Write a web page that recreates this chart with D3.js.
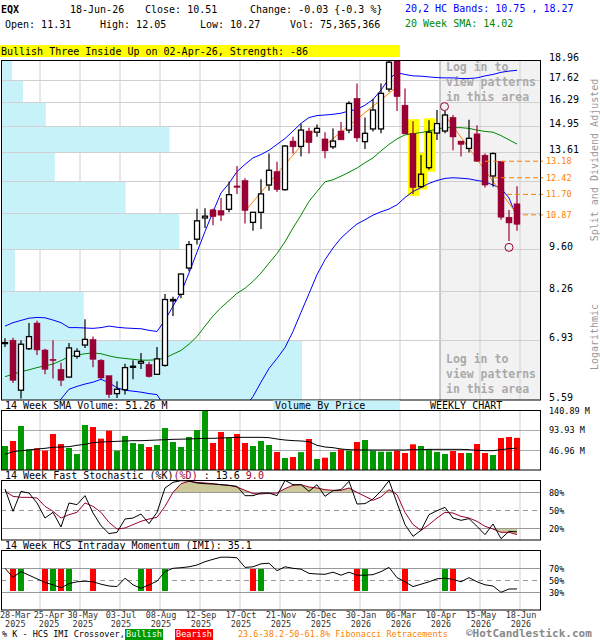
<!DOCTYPE html>
<meta charset="utf-8">
<script src="https://d3js.org/d3.v7.min.js"></script>
<style>
  body { margin: 0; background: #fff; }
  svg text { font-family: "DejaVu Sans Mono", monospace; }
</style>
<div id="chart"></div>
<script>
// weekly bars, 28-Mar-25 .. 18-Jun-26
var opens  = [6.85,6.93,5.79,6.72,7.37,6.69,6.47,6.24,6.07,6.54, 6.81,6.95,6.45,6.10,5.72,5.80,6.30,6.38,6.35,6.13,
              6.33,7.98,8.17,8.98,9.96,10.75,11.07,11.04,11.09,12.06, 12.30,10.58,10.97,12.10,12.70,11.90,14.17,13.90,14.69,14.63,
              14.28,13.88,14.69,14.74,16.52,14.14,14.80,14.80,17.08,18.96, 16.12,14.57,12.03,12.88,14.58,14.69,15.43,14.17,13.80,14.54,
              13.47,12.50,13.18,10.78,11.31];
var highs  = [6.98,6.99,6.93,7.37,7.43,6.72,6.93,6.39,6.86,6.73, 7.47,7.02,6.47,6.10,5.98,6.37,6.45,6.62,6.41,6.76,
              8.18,8.10,8.80,9.90,11.11,11.13,11.11,11.55,12.24,12.96, 12.40,10.97,12.35,13.55,13.16,13.97,14.39,15.08,14.86,15.04,
              14.63,14.83,15.17,16.35,17.42,15.42,16.50,17.42,18.89,19.05, 17.11,15.22,13.48,15.27,15.84,15.78,15.56,14.17,15.30,15.00,
              13.55,13.60,13.18,11.06,12.05];
var lows   = [6.76,5.94,5.62,6.69,6.57,6.13,6.04,5.88,6.06,6.48, 6.74,6.29,6.03,5.63,5.63,5.70,6.02,6.25,6.06,6.13,
              6.30,7.56,8.06,8.88,9.77,10.37,10.47,10.63,10.97,11.72, 10.54,10.27,10.33,11.85,11.80,11.85,13.55,13.40,13.55,14.39,
              13.32,13.77,14.23,14.57,14.14,13.77,14.66,14.57,16.92,15.78, 14.54,11.72,11.99,12.78,14.23,14.57,13.71,13.40,13.60,13.15,
              11.99,12.03,10.68,9.90,10.27];
var closes = [6.87,6.00,6.83,7.02,6.69,6.24,6.44,6.00,6.74,6.66, 6.95,6.47,6.05,5.70,5.81,6.28,6.31,6.42,6.08,6.48,
              8.02,8.02,8.79,9.77,10.64,10.82,10.80,10.86,11.69,12.00, 11.04,10.97,11.72,12.76,11.90,13.92,13.88,14.74,14.09,14.83,
              13.68,14.17,14.23,16.22,14.33,14.57,15.84,16.82,18.81,16.62, 14.54,11.99,12.58,14.63,15.09,15.56,14.38,14.00,14.31,13.18,
              12.10,13.55,10.78,10.56,10.51];

// 20,2 HC bands and 20 week SMA
var bandUpper = [7.29,7.38,7.44,7.50,7.52,7.51,7.45,7.38,7.25,7.25, 7.24,7.23,7.25,7.29,7.26,7.24,7.23,7.22,7.18,7.15,
                 7.45,7.83,8.22,8.82,9.51,10.24,10.99,11.76,12.17,12.70, 13.03,13.34,13.50,13.71,14.00,14.30,14.69,15.10,15.42,15.53,
                 15.56,15.60,15.66,15.79,15.88,16.12,16.45,17.02,17.72,18.11, 18.00,17.91,17.89,17.84,17.80,17.78,17.78,17.74,17.74,17.78,
                 17.91,18.00,18.14,18.22,18.27];
var bandLower = [null,null,null,null,null,null,5.45,5.61,5.81,5.87, 5.92,5.96,6.02,5.95,5.84,5.79,5.77,5.75,5.72,5.70,
                 5.45,null,null,null,null,null,null,null,null,null, 5.45,5.66,5.96,6.26,6.49,6.75,7.15,7.66,8.19,8.77,
                 9.25,9.65,10.00,10.27,10.52,10.68,10.86,10.99,11.10,11.27, 11.57,11.82,11.99,12.17,12.30,12.39,12.42,12.40,12.37,12.30,
                 12.24,12.10,11.96,11.55,10.75];
var sma20 = [6.08,6.13,6.19,6.23,6.28,6.32,6.36,6.44,6.53,6.57, 6.60,6.62,6.60,6.55,6.51,6.49,6.47,6.45,6.45,6.46,
             6.50,6.59,6.68,6.83,7.02,7.29,7.56,7.79,7.99,8.20, 8.35,8.56,8.82,9.14,9.46,9.87,10.37,10.86,11.41,11.82,
             12.24,12.33,12.49,12.67,12.86,13.11,13.34,13.68,14.00,14.28, 14.49,14.55,14.61,14.69,14.80,14.87,14.87,14.87,14.83,14.74,
             14.67,14.63,14.45,14.23,14.02];

// volume (millions) and its 14 week SMA
var volumes = [56.4,68.1,103.3,48.5,50.9,45.4,84.5,61.0,51.7,37.6, 105.7,101.0,73.6,92.4,45.4,79.8,63.4,61.0,54.0,58.7,
               98.6,65.7,54.0,77.5,93.9,140.0,63.4,89.2,75.8,84.5, 63.4,56.4,68.1,58.7,42.3,28.2,30.5,42.0,72.8,25.8,
               28.9,42.3,48.5,45.4,65.7,70.4,45.4,43.0,43.0,45.4, 39.9,60.3,56.4,48.5,42.3,37.6,44.6,39.9,39.9,61.0,
               39.9,35.2,75.1,77.5,75.4];
var volSma = [36.8,43.0,45.4,47.0,49.3,50.9,53.3,54.0,54.8,58.0, 60.3,64.2,65.7,66.5,67.3,68.1,68.9,68.9,69.6,70.4,
              71.2,72.0,72.4,72.8,73.6,74.4,74.4,75.1,75.9,76.7, 76.7,76.7,76.7,75.9,72.8,70.4,69.0,68.1,66.5,58.0,
              54.0,52.4,49.3,47.7,47.0,47.0,47.0,47.0,47.0,47.0, 47.0,47.7,47.7,48.5,48.5,48.5,48.5,48.5,47.7,46.2,
              45.4,45.4,47.7,50.1,51.26];

// fast stochastic %K, %D
var stochK = [85,47.8,81,78.3,61.7,36.6,46.1,21.7,61.7,58.9, 73.9,45,23.9,10.6,12.8,35,36.6,43.3,27.2,46.1,
              86.7,96.1,98.9,98.3,95,93.9,93.3,92.2,91.1,89.4, 73.9,73.9,78.3,78.3,73.9,99.4,92.2,92.2,81.1,92.2,
              72.8,82.2,83.9,97.8,60,60.6,68.3,81.7,98.9,61.7, 25.6,6.1,16.1,42.2,48.9,54.4,36.6,32.8,35.6,22.8,
              8.9,26.7,2.2,14.4,13.6];
var stochD = [81.1,72.8,71.1,71.1,70,56.1,47.8,36.6,42.2,46.1, 61.7,56.1,46.1,29.4,18.3,20,25.6,31.1,35,37.8,
              56.1,79.4,93.9,97.8,96.1,95,93.9,92.2,91.1,88.3, 82.8,77.2,76.7,77.8,78.3,85.6,91.1,92.2,88.3,86.7,
              83.9,82.8,82.8,86.7,79.4,72.8,66.1,71.7,83.9,75.6, 46.1,25.6,16.1,25.6,36.6,46.1,45,39.4,36.6,31.1,
              22.8,18.3,12.8,12.8,9.0];

// HCS intraday momentum and crossover signals
var imi = [69.5,54.5,64,58,52,46,42,37,44,47, 48,47,43,40,39,53,42,36,42,48,
           64,69.5,70.5,72,75,80.5,84.5,88,88,87, 71,72,77,78,65.5,72,69.5,68,61,60,
           59.5,63,58,63,58,58,59,64,71,54, 47,39,43,47,52,53,51,47,54,47,
           42,40,29.5,35,35.1];
var imiBull = [2,6,8,17,20,32,45,55];
var imiBear = [1,5,7,11,18,31,44,50,56];

// axis labels
var dateIdx = [0,4,9,14,19,24,29,34,39,44,49,54,59,64];
var dateLabels = ["28-Mar","25-Apr","30-May","03-Jul","08-Aug","12-Sep","17-Oct","21-Nov","26-Dec","30-Jan","06-Mar","10-Apr","15-May","18-Jun"];
var yearLabels = ["2025","2025","2025","2025","2025","2025","2025","2025","2025","2026","2026","2026","2026","2026"];
var priceTicks = [5.59,6.93,8.26,9.60,10.94,12.27,13.61,14.95,16.29,17.62,18.96];
var priceLabels = [5.59,6.93,8.26,9.60,13.61,14.95,16.29,17.62,18.96];
var volTicks = [46.96,93.93,140.89];

// volume by price, one value per price band (bottom to top)
var vbpVolume = [1510,415,70,895,625,270,845,225,110,55];

// pattern, trend and fibonacci annotations
var highlightIdx = [51,52,53];
var highMarks = [55];
var lowMarks = [63];
var trendLines = [[30,11.02,39,14.90],[40,13.97,49,17.22],[55,15.54,64,10.89]];
var fibLevels = [13.18,12.42,11.70,10.87];
var fibStart = [60,61,62.75,64.75];

var RED = "#990033", GRID = "#d0d0d0";

var svg = d3.select("#chart").append("svg")
    .attr("width", 600)
    .attr("height", 640);

var x = d3.scaleLinear().domain([0, 64]).range([5, 517]);
var y = d3.scaleLog().domain([5.59, 18.96]).range([400, 60]);
var yVol = d3.scaleLinear().domain([0, 140.89]).range([470, 410]);
var ySto = d3.scaleLinear().domain([0, 100]).range([540, 480]);
var yImi = d3.scaleLinear().domain([0, 100]).range([610, 550]);
var idx = d3.range(opens.length);

function clip(id, y0, y1) {
  svg.append("clipPath").attr("id", id)
    .append("rect").attr("x", 1).attr("y", y0).attr("width", 539).attr("height", y1 - y0);
}
clip("cMain", 60, 400); clip("cVol", 410, 470); clip("cSto", 480, 540); clip("cImi", 550, 610);

function label(g, px, py, s, opt) {
  opt = opt || {};
  return g.append("text").attr("x", px).attr("y", py)
    .attr("font-size", opt.size || 10)
    .attr("fill", opt.color || "#000")
    .attr("font-weight", opt.weight || "normal")
    .attr("text-anchor", opt.anchor || "start")
    .text(s);
}

// ---- header ----
label(svg, 1, 13, "EQX", {weight: "bold"});
label(svg, 70, 13, "18-Jun-26");
label(svg, 145, 13, "Close: 10.51");
label(svg, 250, 13, "Change: -0.03 {-0.3 %}");
label(svg, 405, 12, "20,2 HC Bands: 10.75 , 18.27", {color: "#0000ff"});
label(svg, 5, 28, "Open: 11.31");
label(svg, 100, 28, "High: 12.05");
label(svg, 200, 28, "Low: 10.27");
label(svg, 290, 28, "Vol: 75,365,366");
label(svg, 405, 27, "20 Week SMA: 14.02", {color: "#008800"});
svg.append("rect").attr("x", 0).attr("y", 45).attr("width", 400).attr("height", 12).attr("fill", "#ffff00");
label(svg, 1, 55, "Bullish Three Inside Up on 02-Apr-26, Strength: -86");

// ---- main price panel ----
var gm = svg.append("g").attr("clip-path", "url(#cMain)");
gm.append("rect").attr("x", 440).attr("y", 60).attr("width", 100).attr("height", 340).attr("fill", "#f2f2f2");

var gridIdx = dateIdx.slice(1);
function vgrid(g, y0, y1) {
  g.selectAll(null).data(gridIdx).enter().append("line")
    .attr("x1", function(i) { return x(i) + 3; }).attr("x2", function(i) { return x(i) + 3; })
    .attr("y1", y0).attr("y2", y1)
    .attr("stroke", function(i) { return (y0 === 60 && i === 54) ? "#999" : GRID; })
    .attr("stroke-width", 1);
}
vgrid(gm, 60, 400);

// volume by price
var vbpX = d3.scaleLinear().domain([0, d3.max(vbpVolume)]).range([0, 301]);
gm.selectAll(null).data(vbpVolume).enter().append("rect")
  .attr("x", 1)
  .attr("y", function(d, k) { return y(priceTicks[k + 1]); })
  .attr("width", function(d) { return vbpX(d); })
  .attr("height", function(d, k) { return y(priceTicks[k]) - y(priceTicks[k + 1]); })
  .attr("fill", "#c8f2fa");

gm.selectAll(null).data(priceTicks).enter().append("line")
  .attr("x1", 1).attr("x2", 540)
  .attr("y1", function(d) { return Math.round(y(d)) + 0.5; })
  .attr("y2", function(d) { return Math.round(y(d)) + 0.5; })
  .attr("stroke", GRID);

["Log in to", "view patterns", "in this area"].forEach(function(s, k) {
  label(gm, 446, 71 + k * 15, s, {size: 11.5, weight: "bold", color: "#aaa"});
  label(gm, 446, 363 + k * 15, s, {size: 11.5, weight: "bold", color: "#aaa"});
});

// pattern highlight
gm.selectAll(null).data(highlightIdx).enter().append("rect")
  .attr("x", function(i) { return x(i) - 5; })
  .attr("y", function(i) { return y(highs[i]) - 2; })
  .attr("width", 11)
  .attr("height", function(i) { return y(lows[i]) - y(highs[i]) + 4; })
  .attr("fill", "#ffff00");

// bands and sma
function priceLine(vals, color) {
  gm.append("path").datum(vals)
    .attr("fill", "none").attr("stroke", color).attr("stroke-width", 1)
    .attr("d", d3.line().defined(function(d) { return d != null; })
      .x(function(d, i) { return x(i); }).y(function(d) { return y(d); }));
}
priceLine(bandUpper, "#0000ff");
priceLine(bandLower, "#0000ff");
priceLine(sma20, "#008800");

// trend lines
gm.selectAll(null).data(trendLines).enter().append("line")
  .attr("x1", function(d) { return x(d[0]); }).attr("y1", function(d) { return y(d[1]); })
  .attr("x2", function(d) { return x(d[2]); }).attr("y2", function(d) { return y(d[3]); })
  .attr("stroke", "#ff7f00").attr("stroke-width", 1);

// candles
var up = function(i) { return closes[i] >= opens[i]; };
gm.selectAll(null).data(idx).enter().append("line")
  .attr("x1", function(i) { return x(i); }).attr("x2", function(i) { return x(i); })
  .attr("y1", function(i) { return y(highs[i]); }).attr("y2", function(i) { return y(lows[i]); })
  .attr("stroke", function(i) { return up(i) ? "#000" : RED; })
  .attr("stroke-width", 1.2);
gm.selectAll(null).data(idx).enter().append("rect")
  .attr("x", function(i) { return up(i) ? x(i) - 2.5 : x(i) - 3; })
  .attr("y", function(i) { return y(Math.max(opens[i], closes[i])); })
  .attr("width", function(i) { return up(i) ? 5 : 6; })
  .attr("height", function(i) { return Math.max(1, Math.abs(y(opens[i]) - y(closes[i]))); })
  .attr("fill", function(i) {
    if (!up(i)) return RED;
    return highlightIdx.indexOf(i) >= 0 ? "#ffff00" : "#fff";
  })
  .attr("stroke", function(i) { return up(i) ? "#000" : RED; })
  .attr("stroke-width", function(i) { return up(i) ? 1.3 : 0.5; });

// swing markers
gm.selectAll(null).data(highMarks).enter().append("circle")
  .attr("cx", function(i) { return x(i) - 0.5; }).attr("cy", function(i) { return y(highs[i]) - 4.5; })
  .attr("r", 4).attr("fill", "none").attr("stroke", RED);
gm.selectAll(null).data(lowMarks).enter().append("circle")
  .attr("cx", function(i) { return x(i); }).attr("cy", function(i) { return y(lows[i]) + 6.5; })
  .attr("r", 4).attr("fill", "none").attr("stroke", RED);

// fibonacci retracements
fibLevels.forEach(function(v, k) {
  svg.append("line")
    .attr("x1", x(fibStart[k])).attr("x2", 543)
    .attr("y1", y(v)).attr("y2", y(v))
    .attr("stroke", "#ff7f00").attr("stroke-dasharray", "5,3");
  label(svg, 546, y(v) + 3, v.toFixed(2), {size: 8.5, color: "#ff7f00"});
});

svg.append("rect").attr("x", 1.5).attr("y", 60.5).attr("width", 539).attr("height", 339.5)
  .attr("fill", "none").attr("stroke", "#000");

priceLabels.forEach(function(v) {
  label(svg, 549, y(v) + 0.5, v.toFixed(2));
});

// side captions
svg.append("text").attr("transform", "translate(598,160) rotate(-90)")
  .attr("text-anchor", "middle").attr("font-size", 10).attr("fill", "#999")
  .text("Split and Dividend Adjusted");
svg.append("text").attr("transform", "translate(598,337) rotate(-90)")
  .attr("text-anchor", "middle").attr("font-size", 10).attr("fill", "#999")
  .text("Logarithmic");

// ---- volume panel ----
label(svg, 5, 409, "14 Week SMA Volume: 51.26 M");
svg.append("rect").attr("x", 273).attr("y", 400.5).attr("width", 127).attr("height", 9.5).attr("fill", "#c8f2fa");
label(svg, 275, 409, "Volume By Price");
label(svg, 430, 409, "WEEKLY CHART");

var gv = svg.append("g").attr("clip-path", "url(#cVol)");
vgrid(gv, 410, 470);
gv.selectAll(null).data(volTicks.slice(0, 2)).enter().append("line")
  .attr("x1", 1).attr("x2", 540)
  .attr("y1", function(d) { return Math.round(yVol(d)) + 0.5; })
  .attr("y2", function(d) { return Math.round(yVol(d)) + 0.5; })
  .attr("stroke", "#aaa");
gv.selectAll(null).data(idx).enter().append("rect")
  .attr("x", function(i) { return x(i) - 3; })
  .attr("y", function(i) { return yVol(volumes[i]); })
  .attr("width", 6)
  .attr("height", function(i) { return 470 - yVol(volumes[i]); })
  .attr("fill", function(i) { return up(i) ? "#009900" : "#ff0000"; });
gv.append("path").datum(volSma)
  .attr("fill", "none").attr("stroke", "#000")
  .attr("d", d3.line().x(function(d, i) { return x(i); }).y(function(d) { return yVol(d); }));
svg.append("rect").attr("x", 1.5).attr("y", 410.5).attr("width", 539).attr("height", 59.5)
  .attr("fill", "none").attr("stroke", "#000");
volTicks.forEach(function(v) {
  label(svg, 549, yVol(v) + 3.5, v.toFixed(2) + " M", {size: 8.5});
});

// ---- stochastic panel ----
var st = svg.append("text").attr("x", 5).attr("y", 479).attr("font-size", 10);
st.append("tspan").text("14 Week Fast Stochastic (%K)");
st.append("tspan").attr("fill", RED).text("(%D)");
st.append("tspan").text(" : 13.6 ");
st.append("tspan").attr("fill", RED).text("9.0");

var gs = svg.append("g").attr("clip-path", "url(#cSto)");
vgrid(gs, 480, 540);
gs.append("path").datum(stochD).attr("fill", "#ccc899")
  .attr("d", d3.area().x(function(d, i) { return x(i); })
    .y0(ySto(80)).y1(function(d) { return ySto(Math.max(d, 80)); }));
gs.append("path").datum(stochD).attr("fill", "#ccc899")
  .attr("d", d3.area().x(function(d, i) { return x(i); })
    .y0(ySto(20)).y1(function(d) { return ySto(Math.min(d, 20)); }));
[80, 50, 20].forEach(function(v) {
  gs.append("line").attr("x1", 1).attr("x2", 540)
    .attr("y1", Math.round(ySto(v)) + 0.5).attr("y2", Math.round(ySto(v)) + 0.5)
    .attr("stroke", "#999").attr("stroke-dasharray", v === 50 ? "5,4" : null);
  label(svg, 549, ySto(v) + 3.5, v + "%", {size: 8.5});
});
gs.append("path").datum(stochD)
  .attr("fill", "none").attr("stroke", RED)
  .attr("d", d3.line().x(function(d, i) { return x(i); }).y(function(d) { return ySto(d); }));
gs.append("path").datum(stochK)
  .attr("fill", "none").attr("stroke", "#000")
  .attr("d", d3.line().x(function(d, i) { return x(i); }).y(function(d) { return ySto(d); }));
svg.append("rect").attr("x", 1.5).attr("y", 480.5).attr("width", 539).attr("height", 59.5)
  .attr("fill", "none").attr("stroke", "#000");

// ---- IMI panel ----
label(svg, 5, 549, "14 Week HCS Intraday Momentum (IMI): 35.1");
var gi = svg.append("g").attr("clip-path", "url(#cImi)");
vgrid(gi, 550, 610);
[70, 50, 30].forEach(function(v) {
  gi.append("line").attr("x1", 1).attr("x2", 540)
    .attr("y1", Math.round(yImi(v)) + 0.5).attr("y2", Math.round(yImi(v)) + 0.5)
    .attr("stroke", "#999").attr("stroke-dasharray", v === 50 ? "5,4" : null);
  label(svg, 549, yImi(v) + 3.5, v + "%", {size: 8.5});
});
function signalBars(list, color) {
  gi.selectAll(null).data(list).enter().append("rect")
    .attr("x", function(i) { return x(i) - 3; })
    .attr("y", yImi(70) + 1)
    .attr("width", 6)
    .attr("height", yImi(30) - yImi(70) - 2)
    .attr("fill", color);
}
signalBars(imiBull, "#009900");
signalBars(imiBear, "#ff0000");
gi.append("path").datum(imi)
  .attr("fill", "none").attr("stroke", "#000")
  .attr("d", d3.line().x(function(d, i) { return x(i); }).y(function(d) { return yImi(d); }));
svg.append("rect").attr("x", 1.5).attr("y", 550.5).attr("width", 539).attr("height", 59.5)
  .attr("fill", "none").attr("stroke", "#000");

// ---- date axis ----
var prevRight = -Infinity;
dateIdx.forEach(function(i, k) {
  var w = dateLabels[k].length * 5.12;
  var left = Math.max(0, x(i) + 4 - w / 2);
  if (left < prevRight + 3) left = prevRight + 3;
  prevRight = left + w;
  var cx = left + w / 2;
  label(svg, cx, 618, dateLabels[k], {size: 8.5, anchor: "middle", color: "#333"});
  label(svg, cx, 626.5, yearLabels[k], {size: 8.5, anchor: "middle", color: "#333"});
});

// ---- footer ----
label(svg, 2, 637, "% K - HCS IMI Crossover,", {size: 8.5});
svg.append("rect").attr("x", 125).attr("y", 629).attr("width", 38).attr("height", 11).attr("fill", "#009900");
label(svg, 144, 637, "Bullish", {size: 8.5, color: "#fff", anchor: "middle"});
svg.append("rect").attr("x", 175).attr("y", 629).attr("width", 38).attr("height", 11).attr("fill", "#ff0000");
label(svg, 194, 637, "Bearish", {size: 8.5, color: "#fff", anchor: "middle"});
label(svg, 238, 637, "23.6-38.2-50-61.8% Fibonacci Retracements", {size: 8.5, color: "#ff7f00"});
label(svg, 466, 637, "\u00a9HotCandlestick.com", {size: 11, weight: "bold", color: "#888"});
</script>
